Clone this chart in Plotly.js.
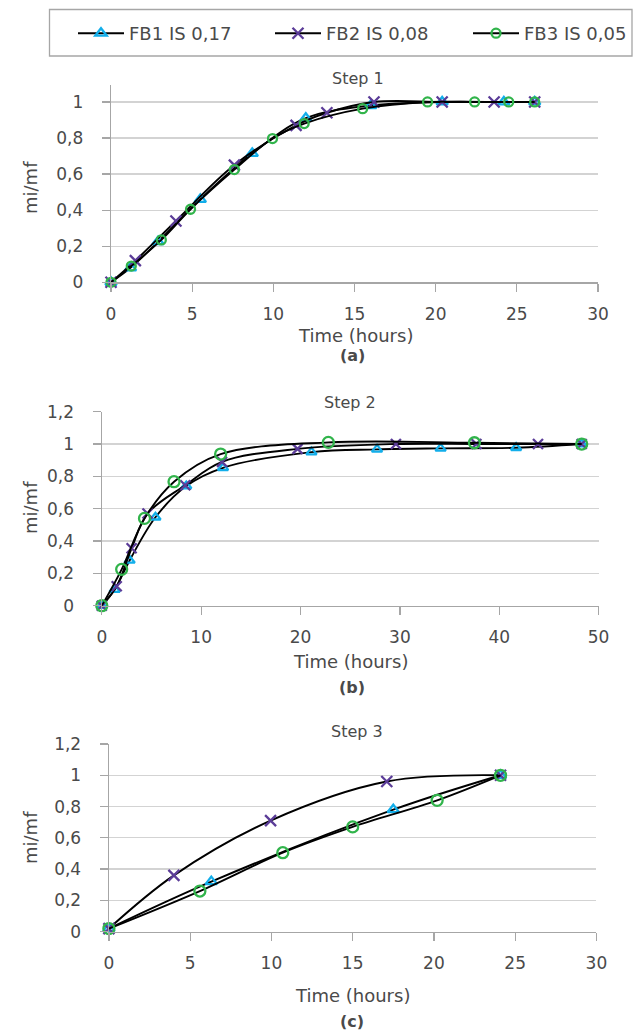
<!DOCTYPE html>
<html><head><meta charset="utf-8">
<script src="https://cdn.plot.ly/plotly-3.0.1.min.js"></script>
<style>html,body{margin:0;padding:0;background:#fff}#chart{width:635px;height:1032px}</style>
</head><body><div id="chart"></div>
<script>
// ---- data ----
const seriesNames = ['FB1 IS 0,17', 'FB2 IS 0,08', 'FB3 IS 0,05'];
const panelTitles = ['Step 1', 'Step 2', 'Step 3'];
const panelLabels = ['(a)', '(b)', '(c)'];
const xTitle = 'Time (hours)';
const yTitle = 'mi/mf';

// Step 1
const s1_fb1_x = [0, 1.2, 2.9, 5.5, 8.7, 12.0, 16.0, 20.4, 24.2, 26.1];
const s1_fb1_y = [0, 0.08, 0.225, 0.46, 0.715, 0.91, 0.98, 1.0, 1.0, 1.0];
const s1_fb2_x = [0, 1.5, 4.0, 7.6, 11.4, 13.3, 16.2, 20.4, 23.6, 26.1];
const s1_fb2_y = [0, 0.12, 0.34, 0.65, 0.87, 0.94, 1.0, 1.0, 1.0, 1.0];
const s1_fb3_x = [0, 1.25, 3.1, 4.9, 7.6, 9.95, 11.9, 15.5, 19.5, 22.4, 24.5, 26.1];
const s1_fb3_y = [0, 0.09, 0.235, 0.405, 0.625, 0.797, 0.88, 0.963, 1.0, 1.0, 1.0, 1.0];

// Step 2
const s2_fb1_x = [0, 1.3, 2.8, 5.4, 8.5, 12.2, 21.1, 27.7, 34.1, 41.7, 48.3];
const s2_fb1_y = [0, 0.1, 0.28, 0.547, 0.74, 0.853, 0.95, 0.967, 0.973, 0.977, 1.0];
const s2_fb2_x = [0, 1.5, 3.0, 4.6, 8.4, 12.1, 19.7, 29.6, 37.7, 43.9, 48.3];
const s2_fb2_y = [0, 0.12, 0.355, 0.57, 0.745, 0.89, 0.97, 1.0, 1.0, 1.0, 1.0];
const s2_fb3_x = [0, 2.0, 4.3, 7.27, 11.96, 22.8, 37.5, 48.3];
const s2_fb3_y = [0, 0.225, 0.54, 0.767, 0.938, 1.01, 1.008, 1.0];

// Step 3
const s3_fb1_x = [0, 6.3, 17.5, 24.1];
const s3_fb1_y = [0.02, 0.32, 0.78, 1.0];
const s3_fb2_x = [0, 4.0, 9.95, 17.1, 24.1];
const s3_fb2_y = [0.02, 0.36, 0.71, 0.96, 1.0];
const s3_fb3_x = [0, 5.6, 10.7, 15.0, 20.2, 24.1];
const s3_fb3_y = [0.02, 0.26, 0.505, 0.67, 0.84, 1.0];

const xTicks1 = [0, 5, 10, 15, 20, 25, 30];
const xTicks2 = [0, 10, 20, 30, 40, 50];

// ---- styles ----
const FONT = 'DejaVu Sans, Roboto, sans-serif';
const TXT = '#4a4a4a';
const markerStyles = [
  {symbol: 'triangle-up-open', color: '#12aeea'},
  {symbol: 'x-thin-open', color: '#5b3c98'},
  {symbol: 'circle-open', color: '#31b44b'}
];
const markerSizes = [[10, 11, 9], [9, 10, 11], [10, 11, 11]];
const legendIds = ['legend', 'legend2', 'legend3'];

const data = [];
const sets = [
  [[s1_fb1_x, s1_fb1_y], [s1_fb2_x, s1_fb2_y], [s1_fb3_x, s1_fb3_y]],
  [[s2_fb1_x, s2_fb1_y], [s2_fb2_x, s2_fb2_y], [s2_fb3_x, s2_fb3_y]],
  [[s3_fb1_x, s3_fb1_y], [s3_fb2_x, s3_fb2_y], [s3_fb3_x, s3_fb3_y]]
];
sets.forEach((panel, p) => {
  panel.forEach((xy, s) => {
    data.push({
      type: 'scatter', mode: 'lines+markers',
      x: xy[0], y: xy[1],
      name: seriesNames[s],
      legend: legendIds[s],
      showlegend: p === 0,
      xaxis: p === 0 ? 'x' : 'x' + (p + 1),
      yaxis: p === 0 ? 'y' : 'y' + (p + 1),
      line: {color: '#000000', width: 1.9, shape: 'spline', smoothing: 1},
      marker: {symbol: markerStyles[s].symbol, size: markerSizes[p][s], color: markerStyles[s].color,
               line: {color: markerStyles[s].color, width: 2.3}},
      cliponaxis: false
    });
  });
});

const W = 635, H = 1032;
const px = v => v / W;
const py = v => 1 - v / H;

function xAxis(dom, anchor, range, ticks) {
  return {
    domain: dom, anchor: anchor, range: range, tickvals: ticks, showgrid: false, zeroline: false,
    showline: true, linecolor: '#a6a6a6', linewidth: 1.3, ticks: 'outside', ticklen: 8, tickcolor: '#a6a6a6',
    tickwidth: 1.3, ticklabelstandoff: 8,
    tickfont: {family: FONT, size: 17, color: TXT}, fixedrange: true
  };
}
function yAxis(dom, anchor, range) {
  return {
    domain: dom, anchor: anchor, range: range, dtick: 0.2, tick0: 0, showgrid: true, gridcolor: '#d3d3d3',
    gridwidth: 1.3, zeroline: false, showline: true, linecolor: '#a6a6a6', linewidth: 1.3, ticks: 'outside',
    ticklen: 8, tickcolor: '#a6a6a6', tickwidth: 1.3, ticklabelstandoff: 15,
    tickfont: {family: FONT, size: 17, color: TXT}, fixedrange: true
  };
}
function legendAt(leftPx) {
  return {
    orientation: 'h', x: px(leftPx), y: py(33.5), xanchor: 'left', yanchor: 'middle',
    font: {family: FONT, size: 18, color: TXT}, bgcolor: 'rgba(0,0,0,0)', borderwidth: 0,
    itemwidth: 46, itemclick: false, itemdoubleclick: false
  };
}

const layout = {
  width: W, height: H, margin: {l: 0, r: 0, t: 0, b: 0},
  paper_bgcolor: '#ffffff', plot_bgcolor: '#ffffff',
  separators: ', ',
  font: {family: FONT, color: TXT},
  xaxis: xAxis([px(111), px(598)], 'y', [0, 30], xTicks1),
  yaxis: yAxis([py(282.3), py(85)], 'x', [0, 1.094]),
  xaxis2: xAxis([px(101.8), px(598.6)], 'y2', [0, 50], xTicks2),
  yaxis2: yAxis([py(605.7), py(411.7)], 'x2', [0, 1.2]),
  xaxis3: xAxis([px(108.9), px(596.4)], 'y3', [0, 30], xTicks1),
  yaxis3: yAxis([py(931.7), py(744)], 'x3', [0, 1.2]),
  showlegend: true,
  legend: legendAt(73),
  legend2: legendAt(270),
  legend3: legendAt(468),
  shapes: [
    {type: 'rect', xref: 'paper', yref: 'paper', x0: px(49.5), x1: px(632), y0: py(56), y1: py(9.5),
     line: {color: '#a6a6a6', width: 1.3}, fillcolor: 'rgba(0,0,0,0)'}
  ],
  annotations: []
};

const titleY = [78, 402, 731];
const titleX = [358, 350, 357];
const xTitleY = [335, 661, 995];
const xTitleX = [355, 350, 352];
const labY = [356, 687, 1021];
const yTitleY = [188, 508, 838];
for (let i = 0; i < 3; i++) {
  layout.annotations.push({text: panelTitles[i], xref: 'paper', yref: 'paper', x: px(titleX[i]), y: py(titleY[i]),
    xanchor: 'center', yanchor: 'middle', showarrow: false, font: {family: FONT, size: 16, color: TXT}});
  layout.annotations.push({text: xTitle, xref: 'paper', yref: 'paper', x: px(xTitleX[i]), y: py(xTitleY[i]),
    xanchor: 'center', yanchor: 'middle', showarrow: false, font: {family: FONT, size: 18, color: TXT}});
  layout.annotations.push({text: '<b>' + panelLabels[i] + '</b>', xref: 'paper', yref: 'paper', x: px(352), y: py(labY[i]),
    xanchor: 'center', yanchor: 'middle', showarrow: false, font: {family: FONT, size: 16, color: TXT}});
  layout.annotations.push({text: yTitle, xref: 'paper', yref: 'paper', x: px(30), y: py(yTitleY[i]),
    xanchor: 'center', yanchor: 'middle', textangle: -90, showarrow: false, font: {family: FONT, size: 18, color: TXT}});
}

Plotly.newPlot('chart', data, layout, {displayModeBar: false, staticPlot: true});
</script>
</body></html>
